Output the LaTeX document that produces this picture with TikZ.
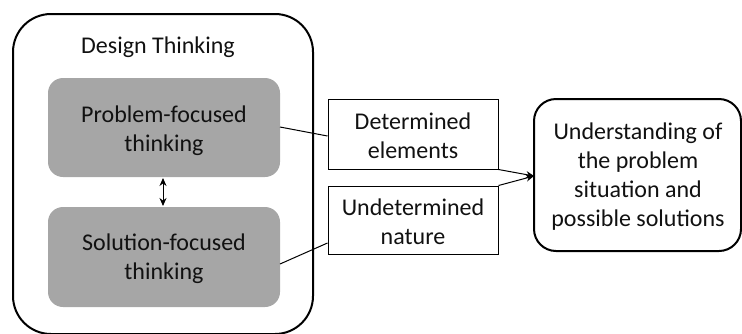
\documentclass[tikz,border=0pt]{standalone}
\usepackage{fontspec}
\setmainfont{Carlito}
\usetikzlibrary{arrows.meta}
\definecolor{boxgray}{HTML}{A6A6A6}
\definecolor{txt}{HTML}{111111}
\begin{document}
\begin{tikzpicture}[x=1pt,y=-1pt,
  lbl/.style={font=\fontsize{24}{29}\selectfont, text=txt, align=center, inner sep=0pt},
  frame/.style={draw=black, line width=2pt},
  thinkbox/.style={fill=boxgray, rounded corners=15pt},
  factorbox/.style={draw=black, line width=1pt},
  link/.style={draw=black, line width=1pt},
  tip/.style={-{Stealth[length=8pt,width=7pt]}}
]
\useasboundingbox (0,0) rectangle (742,333);
\clip (0,0) rectangle (742,333);

% outer design-thinking frame
\draw[frame, rounded corners=38pt] (13,14) rectangle (313,334);
\node[lbl] (dt) at (158,47) {Design Thinking};

% two modes of thinking
\path[thinkbox] (48,78) rectangle (280,177);
\node[lbl] (pft) at (164,131) {Problem-focused\\thinking};
\path[thinkbox] (48,207) rectangle (280,307);
\node[lbl] (sft) at (164,259) {Solution-focused\\thinking};

\coordinate (pbot) at (163,178);
\coordinate (stop) at (163,206);
\draw[link, {Stealth[length=8pt,width=7pt]}-{Stealth[length=8pt,width=7pt]}] (pbot) -- (stop);

% nature of the design problem
\node[factorbox, minimum width=170pt, minimum height=70pt, inner sep=0pt] (det) at (413,134) {};
\node[lbl] (dettext) at (413,136) {Determined\\elements};
\node[factorbox, minimum width=170pt, minimum height=68pt, inner sep=0pt] (und) at (413,220) {};
\node[lbl] (undtext) at (413,222) {Undetermined\\nature};

% outcome
\draw[frame, rounded corners=22pt] (534,99) rectangle (741,251);
\coordinate (res) at (534,176);
\node[lbl] (restext) at (638,177) {Understanding of\\the problem\\situation and\\possible solutions};

% connectors
\coordinate (pr) at (280,127);
\coordinate (sr) at (280,264);
\draw[link] (pr) -- (det.west |- 0,136);
\draw[link] (sr) -- (und.west |- 0,243);
\draw[link, tip] (det.south east) -- (res);
\draw[link, tip] (und.north east) -- (res);
\end{tikzpicture}
\end{document}
